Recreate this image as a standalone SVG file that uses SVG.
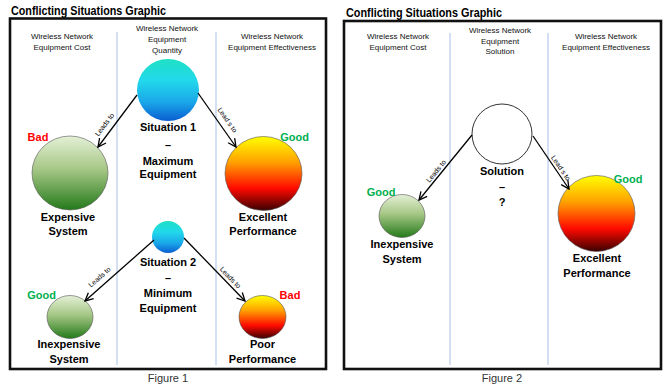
<svg xmlns="http://www.w3.org/2000/svg" width="672" height="390" viewBox="0 0 672 390">
<defs>
<linearGradient id="gBlue" x1="0" y1="0" x2="0" y2="1">
<stop offset="0" stop-color="#1fe0c4"/>
<stop offset="0.35" stop-color="#22d8ec"/>
<stop offset="0.7" stop-color="#1aa6e8"/>
<stop offset="1" stop-color="#0a5ed0"/>
</linearGradient>
<linearGradient id="gGreen" x1="0" y1="0" x2="0" y2="1">
<stop offset="0" stop-color="#e4f0d6"/>
<stop offset="0.45" stop-color="#a6c786"/>
<stop offset="1" stop-color="#247a1a"/>
</linearGradient>
<linearGradient id="gOrange" x1="0" y1="0" x2="0" y2="1">
<stop offset="0" stop-color="#ffff00"/>
<stop offset="0.35" stop-color="#ffa000"/>
<stop offset="0.7" stop-color="#ff0a00"/>
<stop offset="1" stop-color="#3a0000"/>
</linearGradient>
<marker id="arr" markerUnits="userSpaceOnUse" markerWidth="12" markerHeight="12" refX="9" refY="5" orient="auto">
<path d="M1,1 L9,5 L1,9" fill="none" stroke="#000" stroke-width="1.3"/>
</marker>
</defs>
<style>
.title{font-family:"Liberation Sans",Arial,sans-serif;font-weight:bold;font-size:12.5px;fill:#000}
.box{fill:#fff;stroke:#111;stroke-width:2.6}
.div{stroke:#a8bfe6;stroke-width:1}
.hdr{font-family:"Liberation Sans",Arial,sans-serif;font-size:8px;fill:#111;text-anchor:middle}
.lbl{font-family:"Liberation Sans",Arial,sans-serif;font-weight:bold;font-size:11px;fill:#000;text-anchor:middle}
.good{font-family:"Liberation Sans",Arial,sans-serif;font-weight:bold;font-size:11px;fill:#00b050;text-anchor:middle}
.bad{font-family:"Liberation Sans",Arial,sans-serif;font-weight:bold;font-size:11px;fill:#ff0000;text-anchor:middle}
.cap{font-family:"Liberation Sans",Arial,sans-serif;font-size:11px;fill:#333;text-anchor:middle}
.lt{font-family:"Liberation Sans",Arial,sans-serif;font-size:7px;fill:#000;text-anchor:middle}
.conn{stroke:#000;stroke-width:1.3;fill:none;marker-end:url(#arr)}
.edge{stroke:#555;stroke-width:0.6}
</style>

<!-- Figure 1 -->
<g id="figure1">
<text class="title" x="11" y="15" textLength="155" lengthAdjust="spacingAndGlyphs">Conflicting Situations Graphic</text>
<rect class="box" x="10" y="18.5" width="316" height="350.5"/>
<line class="div" x1="117" y1="32" x2="117" y2="365"/>
<line class="div" x1="216" y1="32" x2="216" y2="365"/>
<text class="hdr" x="62" y="39">Wireless Network</text>
<text class="hdr" x="62" y="50">Equipment Cost</text>
<text class="hdr" x="167" y="31">Wireless Network</text>
<text class="hdr" x="167" y="42">Equipment</text>
<text class="hdr" x="167" y="53">Quantity</text>
<text class="hdr" x="272" y="39">Wireless Network</text>
<text class="hdr" x="272" y="50">Equipment Effectiveness</text>
<text class="cap" x="168" y="382">Figure 1</text>
</g>

<g id="situation1">
<circle cx="168" cy="90" r="31" fill="url(#gBlue)"/>
<text class="lbl" x="168" y="131">Situation 1</text>
<text class="lbl" x="168" y="149">–</text>
<text class="lbl" x="168" y="165">Maximum</text>
<text class="lbl" x="168" y="178">Equipment</text>
</g>

<g id="expensive-system">
<ellipse class="edge" cx="70" cy="173" rx="38" ry="37" fill="url(#gGreen)"/>
<text class="bad" x="38" y="141">Bad</text>
<text class="lbl" x="68" y="221">Expensive</text>
<text class="lbl" x="68" y="235">System</text>
</g>

<g id="excellent-performance-1">
<ellipse class="edge" cx="263.5" cy="173.5" rx="38.5" ry="37" fill="url(#gOrange)"/>
<text class="good" x="294.5" y="141">Good</text>
<text class="lbl" x="263" y="221">Excellent</text>
<text class="lbl" x="263" y="235">Performance</text>
</g>

<g id="situation2">
<ellipse cx="168" cy="237" rx="16" ry="16" fill="url(#gBlue)"/>
<text class="lbl" x="168" y="266">Situation 2</text>
<text class="lbl" x="168" y="282">–</text>
<text class="lbl" x="168" y="297">Minimum</text>
<text class="lbl" x="168" y="312">Equipment</text>
</g>

<g id="inexpensive-system-1">
<ellipse class="edge" cx="70" cy="317" rx="23" ry="21.5" fill="url(#gGreen)"/>
<text class="good" x="41.5" y="299">Good</text>
<text class="lbl" x="69" y="348">Inexpensive</text>
<text class="lbl" x="69" y="363">System</text>
</g>

<g id="poor-performance">
<ellipse class="edge" cx="262.5" cy="317" rx="23.5" ry="21.5" fill="url(#gOrange)"/>
<text class="bad" x="290" y="299">Bad</text>
<text class="lbl" x="262.5" y="348">Poor</text>
<text class="lbl" x="262.5" y="363">Performance</text>
</g>

<!-- Figure 2 -->
<g id="figure2">
<text class="title" x="346" y="16.5" textLength="156" lengthAdjust="spacingAndGlyphs">Conflicting Situations Graphic</text>
<rect class="box" x="344" y="21" width="317" height="348"/>
<line class="div" x1="450" y1="33" x2="450" y2="365"/>
<line class="div" x1="548" y1="33" x2="548" y2="365"/>
<text class="hdr" x="398" y="39">Wireless Network</text>
<text class="hdr" x="398" y="50">Equipment Cost</text>
<text class="hdr" x="500" y="33">Wireless Network</text>
<text class="hdr" x="500" y="44">Equipment</text>
<text class="hdr" x="500" y="54">Solution</text>
<text class="hdr" x="606" y="39">Wireless Network</text>
<text class="hdr" x="606" y="50">Equipment Effectiveness</text>
<text class="cap" x="502" y="382">Figure 2</text>
</g>

<g id="solution">
<circle cx="502" cy="134" r="30" fill="#fff" stroke="#000" stroke-width="0.8"/>
<text class="lbl" x="502" y="175">Solution</text>
<text class="lbl" x="502" y="191">–</text>
<text class="lbl" x="502" y="206">?</text>
</g>

<g id="inexpensive-system-2">
<ellipse class="edge" cx="402" cy="216" rx="23" ry="21.5" fill="url(#gGreen)"/>
<text class="good" x="381" y="196">Good</text>
<text class="lbl" x="402" y="248">Inexpensive</text>
<text class="lbl" x="402" y="263">System</text>
</g>

<g id="excellent-performance-2">
<ellipse class="edge" cx="596.5" cy="213.5" rx="38.5" ry="38" fill="url(#gOrange)"/>
<text class="good" x="628" y="183">Good</text>
<text class="lbl" x="597" y="262">Excellent</text>
<text class="lbl" x="597" y="277">Performance</text>
</g>

<!-- Connectors -->
<g id="connectors">
<line class="conn" x1="137" y1="95" x2="98" y2="147"/>
<line class="conn" x1="198" y1="93" x2="236" y2="147"/>
<line class="conn" x1="154" y1="240" x2="85" y2="301"/>
<line class="conn" x1="184" y1="238" x2="245" y2="301"/>
<line class="conn" x1="472" y1="135" x2="419" y2="200"/>
<line class="conn" x1="533" y1="136" x2="569" y2="189"/>
<text class="lt" transform="translate(104.5,124.5) rotate(-53)" y="2.5">Leads to</text>
<text class="lt" transform="translate(227.5,120) rotate(55)" y="2.5">Lead s to</text>
<text class="lt" transform="translate(99.5,277) rotate(-41.5)" y="2.5">Leads to</text>
<text class="lt" transform="translate(230.5,277.5) rotate(46)" y="2.5">Leads to</text>
<text class="lt" transform="translate(436,171) rotate(-51)" y="2.5">Leads to</text>
<text class="lt" transform="translate(561,168) rotate(56)" y="2.5">Lead s to</text>
</g>
</svg>
